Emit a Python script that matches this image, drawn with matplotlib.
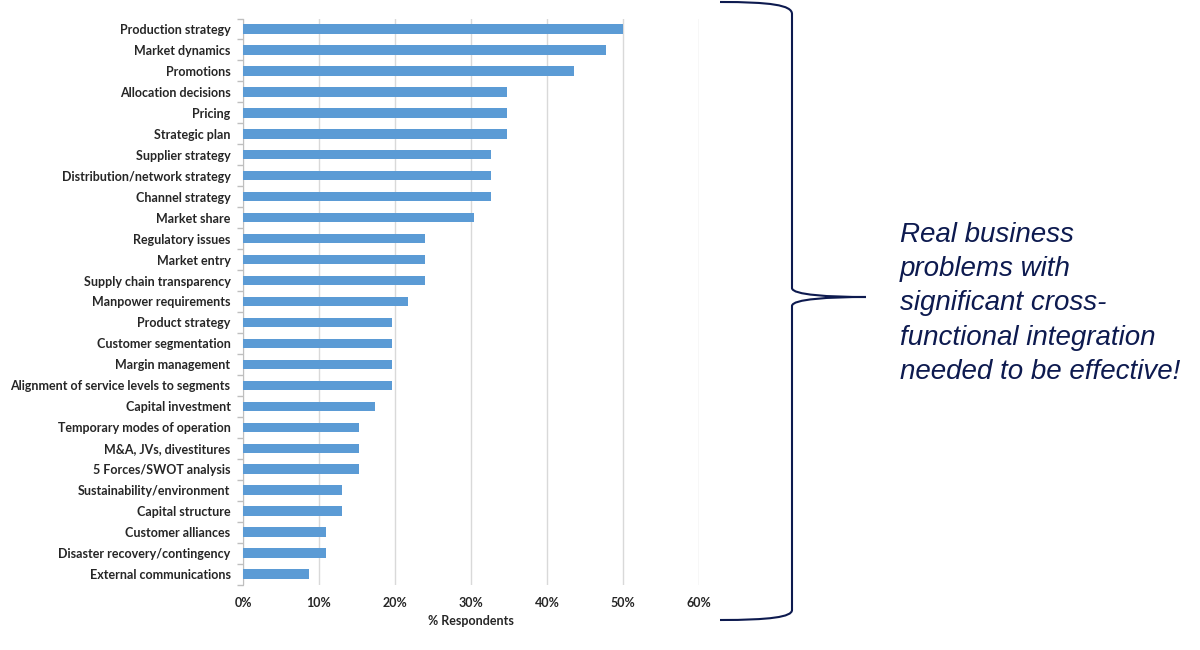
import matplotlib
matplotlib.use("Agg")
import matplotlib.pyplot as plt
from matplotlib.path import Path
from matplotlib.patches import PathPatch
from matplotlib.ticker import FixedLocator, PercentFormatter

categories = [
    "Production strategy", "Market dynamics", "Promotions", "Allocation decisions",
    "Pricing", "Strategic plan", "Supplier strategy", "Distribution/network strategy",
    "Channel strategy", "Market share", "Regulatory issues", "Market entry",
    "Supply chain transparency", "Manpower requirements", "Product strategy",
    "Customer segmentation", "Margin management", "Alignment of service levels to segments",
    "Capital investment", "Temporary modes of operation", "M&A, JVs, divestitures",
    "5 Forces/SWOT analysis", "Sustainability/environment", "Capital structure",
    "Customer alliances", "Disaster recovery/contingency", "External communications",
]
values = [
    50.0, 47.8, 43.5, 34.8, 34.8, 34.8, 32.6, 32.6, 32.6, 30.4, 23.9, 23.9, 23.9,
    21.7, 19.6, 19.6, 19.6, 19.6, 17.4, 15.2, 15.2, 15.2, 13.0, 13.0, 10.9, 10.9, 8.7,
]
x_ticks = [0, 10, 20, 30, 40, 50, 60]
x_label = "% Respondents"
note = "Real business\nproblems with\nsignificant cross-\nfunctional integration\nneeded to be effective!"

W, H = 1200, 650
fig = plt.figure(figsize=(12, 6.5), dpi=100)
top_px, bot_px = 18.5, 584.5
ax = fig.add_axes([243 / W, 1 - bot_px / H, (699 - 243) / W, (bot_px - top_px) / H])

n = len(categories)
ypos = list(range(n))
ax.barh(ypos, values, height=0.45, color="#5b9bd5", zorder=3)
ax.set_ylim(n - 0.5, -0.5)
ax.set_xlim(0, 60)
ax.set_yticks(ypos)
ax.set_yticklabels(categories, fontsize=9, fontweight="bold", color="#262626", family="Lato")
ax.tick_params(axis="y", which="major", length=0, pad=9)
ax.yaxis.set_minor_locator(FixedLocator([i - 0.5 for i in range(n + 1)]))
ax.tick_params(axis="y", which="minor", length=4, color="#bfbfbf", width=1)
ax.set_xticks(x_ticks)
ax.xaxis.set_major_formatter(PercentFormatter(decimals=0))
for t in ax.get_xticklabels():
    t.set_fontsize(9)
    t.set_fontweight("bold")
    t.set_family("Lato")
    t.set_color("#262626")
ax.tick_params(axis="x", length=0, pad=9)
ax.set_xlabel(x_label, fontsize=9, fontweight="bold", family="Lato", color="#262626", labelpad=4)
ax.grid(axis="x", color="#d9d9d9", linewidth=1, zorder=0)
for s in ["top", "right", "bottom"]:
    ax.spines[s].set_visible(False)
ax.spines["left"].set_color("#bfbfbf")

# brace (figure pixel coordinates)
def P(x, y):
    return (x / W, 1 - y / H)

verts = [
    P(720, 2), P(770, 2), P(792, 5), P(792, 14),
    P(792, 288),
    P(792, 295), P(830, 297), P(866, 297),
    P(830, 297), P(792, 299), P(792, 306),
    P(792, 610),
    P(792, 617), P(770, 620), P(720, 620),
]
codes = [Path.MOVETO, Path.CURVE4, Path.CURVE4, Path.CURVE4,
         Path.LINETO,
         Path.CURVE4, Path.CURVE4, Path.CURVE4,
         Path.CURVE4, Path.CURVE4, Path.CURVE4,
         Path.LINETO,
         Path.CURVE4, Path.CURVE4, Path.CURVE4]
brace = PathPatch(Path(verts, codes), transform=fig.transFigure, fill=False,
                  edgecolor="#0d1a4f", linewidth=1.5)
fig.patches.append(brace)

fig.text(900 / W, 1 - 222 / H, note, ha="left", va="top", fontsize=20, style="italic",
         family="Liberation Sans", color="#0d1a4f", linespacing=1.41)

fig.savefig("out.png", dpi=100)
